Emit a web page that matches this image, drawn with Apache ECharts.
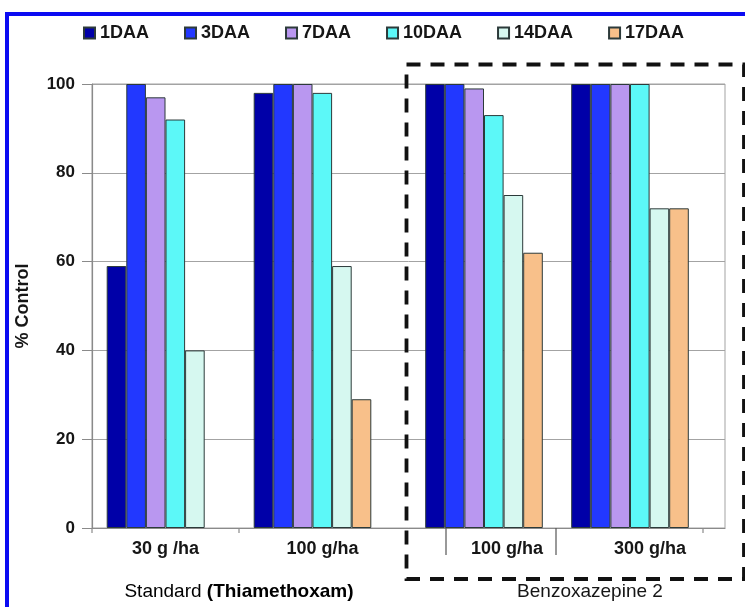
<!DOCTYPE html>
<html>
<head>
<meta charset="utf-8">
<script src="https://cdn.jsdelivr.net/npm/echarts@6/dist/echarts.min.js"></script>
<style>
  html, body { margin: 0; padding: 0; background: #ffffff; }
  #chart { width: 745px; height: 607px; }
</style>
</head>
<body>
<div id="chart"></div>
<script>
// Assessment times (days after application)
const timepoints = ['1DAA', '3DAA', '7DAA', '10DAA', '14DAA', '17DAA'];

// Treatment rates
const standardDoses = ['30 g /ha', '100 g/ha'];
const benzoxazepineDoses = ['100 g/ha', '300 g/ha'];

// % control per time point, one array per treatment rate
const standard30 = [59, 100, 97, 92, 40, null];
const standard100 = [98, 100, 100, 98, 59, 29];
const benzoxazepine100 = [100, 100, 99, 93, 75, 62];
const benzoxazepine300 = [100, 100, 100, 100, 72, 72];

// Value axis
const yMin = 0, yMax = 100, yStep = 20;

const colors = ['#0000a8', '#2238ff', '#b997f0', '#5cf8f8', '#d6f8f0', '#f8c08a'];
const FONT = "'Liberation Sans', Arial, sans-serif";
const TEXT = '#161616';
const GRID_GRAY = '#a3a3a3';

const plotTop = 84, plotBottom = 79; // 607 - 528
const barW = 19.6;

// horizontal nudge of the dose labels (rich-text left padding)
const labelPad = [[0, 20], [46, 40]];

function doseAxis(gridIndex, data, pads) {
  const rich = {};
  pads.forEach((p, i) => {
    rich['d' + i] = { fontFamily: FONT, fontSize: 18, fontWeight: 'bold', color: TEXT, padding: [0, 0, 0, p] };
  });
  return {
    type: 'category',
    gridIndex,
    data,
    axisLine: { show: false },
    axisTick: { show: false },
    splitLine: { show: false },
    axisLabel: {
      interval: 0,
      margin: 12,
      formatter: (v, i) => '{d' + i + '|' + v + '}',
      rich
    }
  };
}

function hiddenValueAxis(gridIndex) {
  return { type: 'value', gridIndex, min: yMin, max: yMax, interval: yStep, show: false };
}

const series = [];
timepoints.forEach((name, i) => {
  const common = {
    type: 'bar',
    name,
    barWidth: barW,
    barGap: '0%',
    itemStyle: { color: colors[i], borderColor: '#2c3a3a', borderWidth: 1 },
    emphasis: { disabled: true }
  };
  series.push(Object.assign({}, common, {
    xAxisIndex: 1, yAxisIndex: 1,
    data: [standard30[i], standard100[i]]
  }));
  series.push(Object.assign({}, common, {
    xAxisIndex: 2, yAxisIndex: 2,
    data: [benzoxazepine100[i], benzoxazepine300[i]]
  }));
});

const chart = echarts.init(document.getElementById('chart'), null, { renderer: 'canvas' });

const tick = (x, len, color) => ({
  type: 'line', silent: true, z: 5,
  shape: { x1: x, y1: 528, x2: x, y2: 528 + len },
  style: { stroke: color, lineWidth: 1.2 }
});

chart.setOption({
  animation: false,
  backgroundColor: '#ffffff',
  textStyle: { fontFamily: FONT },
  legend: {
    data: timepoints,
    left: 78,
    top: 19,
    icon: 'rect',
    itemWidth: 11,
    itemHeight: 11,
    itemGap: 35,
    textStyle: { fontFamily: FONT, fontSize: 18, fontWeight: 'bold', color: TEXT }
  },
  grid: [
    { left: 92, right: 20, top: plotTop, bottom: plotBottom, show: true, borderColor: GRID_GRAY, borderWidth: 1 },
    { left: 92, width: 294, top: plotTop, bottom: plotBottom },
    { left: 411, width: 292, top: plotTop, bottom: plotBottom }
  ],
  xAxis: [
    {
      type: 'value', gridIndex: 0, min: 0, max: 1,
      axisLine: { show: true, lineStyle: { color: '#8a8a8a', width: 1.2 } },
      axisTick: { show: false }, axisLabel: { show: false }, splitLine: { show: false }
    },
    doseAxis(1, standardDoses, labelPad[0]),
    doseAxis(2, benzoxazepineDoses, labelPad[1])
  ],
  yAxis: [
    {
      type: 'value', gridIndex: 0, min: yMin, max: yMax, interval: yStep,
      name: '% Control',
      nameLocation: 'middle',
      nameRotate: 90,
      nameGap: 60,
      nameTextStyle: { fontFamily: FONT, fontSize: 18, fontWeight: 'bold', color: TEXT },
      axisLine: { show: true, lineStyle: { color: '#8a8a8a', width: 1.2 } },
      axisTick: { show: true, inside: false, length: 10, lineStyle: { color: '#8a8a8a' } },
      axisLabel: { margin: 17, fontFamily: FONT, fontSize: 17, fontWeight: 'bold', color: TEXT },
      splitLine: { show: true, lineStyle: { color: GRID_GRAY, width: 1 } }
    },
    hiddenValueAxis(1),
    hiddenValueAxis(2)
  ],
  series,
  graphic: [
    // outer blue frame
    {
      type: 'rect', silent: true, z: 10,
      shape: { x: 7, y: 14, width: 780, height: 640 },
      style: { fill: null, stroke: '#0b0bf2', lineWidth: 4 }
    },
    // dashed enclosure around the benzoxazepine treatments
    {
      type: 'rect', silent: true, z: 10,
      shape: { x: 406.5, y: 64.5, width: 337.5, height: 514.5 },
      style: { fill: null, stroke: '#111111', lineWidth: 3.8, lineDash: [14, 10] }
    },
    // category axis tick marks
    tick(92, 5, '#8a8a8a'),
    tick(239, 5, '#8a8a8a'),
    tick(703, 5, '#8a8a8a'),
    tick(446, 27, '#555555'),
    tick(556, 27, '#555555'),
    // group captions
    {
      type: 'text', silent: true, z: 10,
      style: {
        x: 239, y: 592, align: 'center', verticalAlign: 'middle',
        text: '{n|Standard }{b|(Thiamethoxam)}',
        rich: {
          n: { fontFamily: FONT, fontSize: 19, color: TEXT },
          b: { fontFamily: FONT, fontSize: 19, fontWeight: 'bold', color: TEXT }
        }
      }
    },
    {
      type: 'text', silent: true, z: 10,
      style: {
        x: 590, y: 592, align: 'center', verticalAlign: 'middle',
        text: 'Benzoxazepine 2',
        fontFamily: FONT, fontSize: 19, fill: TEXT
      }
    }
  ]
});
</script>
</body>
</html>
